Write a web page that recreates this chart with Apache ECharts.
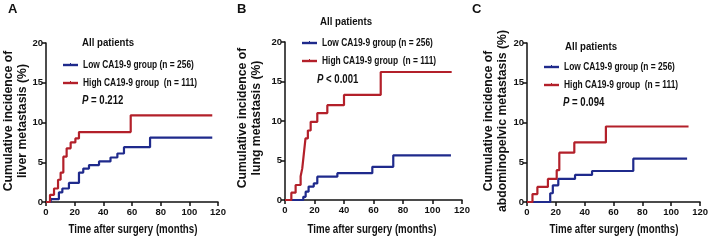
<!DOCTYPE html>
<html><head><meta charset="utf-8">
<script src="https://cdn.jsdelivr.net/npm/echarts@6/dist/echarts.min.js"></script>
<style>html,body{margin:0;padding:0;background:#fff}#c{width:711px;height:244px}</style>
</head><body><div id="c"></div>
<script>
const xTicks = [0, 20, 40, 60, 80, 100, 120];
const yTicks = [0, 5, 10, 15, 20];
const lowName = 'Low CA19-9 group (n = 256)';
const highName = 'High CA19-9 group  (n = 111)';
const panelLetters = ['A', 'B', 'C'];
const xTitle = 'Time after surgery (months)';
const yTitles = [
  'Cumulative incidence of\nliver metastasis (%)',
  'Cumulative incidence of\nlung metastasis (%)',
  'Cumulative incidence of\nabdominopelvic metastasis (%)'
];
const pTexts = ['= 0.212', '< 0.001', '= 0.094'];
// [month, cumulative incidence %]
const liverLow = [[0,0],[3.3,0.35],[9,1.2],[11.4,1.7],[16,2.4],[23,3.7],[26,4.2],[30,4.65],[37,5.1],[45,5.6],[49.8,6.1],[54.4,6.9],[72.6,8.1],[116,8.1]];
const liverHigh = [[0,0],[2.8,0.9],[5.6,1.7],[8.4,2.8],[10.2,3.7],[12.1,5.7],[14.4,6.75],[17.2,7.5],[20.5,8.0],[23,8.8],[59.1,10.9],[116,10.9]];
const lungLow = [[0,0],[12.4,0.4],[14,1.05],[16,1.7],[19.5,2.1],[21.9,2.95],[35.5,3.4],[59.2,4.2],[73.4,5.65],[112.5,5.65]];
const lungHigh = [[0,0],[4.3,0.93],[7.2,1.9],[10.6,3.0],[11.7,4.0],[12.8,5.9],[13.9,7.8],[15.5,8.8],[17.4,9.9],[21.9,11.0],[28.7,12.0],[40,13.3],[64.9,16.2],[113,16.2]];
const abdLow = [[0,0],[16.1,1.1],[17.9,2.1],[21.7,2.9],[33.3,3.4],[45.1,3.9],[73.7,5.45],[111,5.45]];
const abdHigh = [[0,0],[3.8,1.0],[7.2,1.9],[14.5,2.9],[20.6,4.0],[22.4,6.2],[32.8,7.5],[54.7,9.5],[112,9.5]];

const lowData = [liverLow, lungLow, abdLow];
const highData = [liverHigh, lungHigh, abdHigh];

const FONT = '"Liberation Sans", Arial, sans-serif';
const BLUE = '#1f2a8c';
const RED = '#b3202a';
const INK = '#111';

const grids = [
  {left: 46, top: 43, width: 172, height: 159},
  {left: 285, top: 42, width: 177, height: 158},
  {left: 527, top: 43, width: 179, height: 159}
];
const legendPos = [[63, 65], [302, 43], [544, 67]];
const allPos = [[82, 43], [320, 22], [565, 47]];
const pPos = [[82, 101], [317, 80], [563, 103]];
const letterPos = [[8, 3], [237, 3], [472, 3]];
const yTitlePos = [[15, 121], [249, 118], [495, 121]];
const xTitlePos = [[133, 230], [372, 230], [614, 230]];

const axisStyle = {lineStyle: {color: INK, width: 1.5}};
const option = {
  animation: false,
  grid: grids.map(g => Object.assign({containLabel: false}, g)),
  xAxis: grids.map((g, i) => ({
    gridIndex: i, type: 'value', min: xTicks[0], max: xTicks[xTicks.length - 1], interval: 20,
    axisLine: axisStyle, axisTick: {show: true, length: 4, lineStyle: {color: INK, width: 1.5}},
    axisLabel: {fontFamily: FONT, fontWeight: 'bold', fontSize: 9.5, color: INK, margin: 5},
    splitLine: {show: false}
  })),
  yAxis: grids.map((g, i) => ({
    gridIndex: i, type: 'value', min: yTicks[0], max: yTicks[yTicks.length - 1], interval: 5,
    axisLine: Object.assign({show: true}, axisStyle), axisTick: {show: true, length: 4, lineStyle: {color: INK, width: 1.5}},
    axisLabel: {fontFamily: FONT, fontWeight: 'bold', fontSize: 9.5, color: INK, margin: 3},
    splitLine: {show: false}
  })),
  series: [],
  graphic: []
};
function txt(x, y, text, size, sx, extra) {
  return Object.assign({type: 'text', x: x, y: y, scaleX: sx, scaleY: 1,
    style: Object.assign({text: text, fontFamily: FONT, fontWeight: 'bold', fontSize: size, fill: INK, textVerticalAlign: 'middle'}, extra || {})});
}
for (let i = 0; i < 3; i++) {
  option.series.push({name: lowName, type: 'line', xAxisIndex: i, yAxisIndex: i, step: 'end', showSymbol: false,
    data: lowData[i], lineStyle: {color: BLUE, width: 2.2}, itemStyle: {color: BLUE}});
  option.series.push({name: highName, type: 'line', xAxisIndex: i, yAxisIndex: i, step: 'end', showSymbol: false,
    data: highData[i], lineStyle: {color: RED, width: 2.2}, itemStyle: {color: RED}});
  option.graphic.push({type: 'text', left: letterPos[i][0], top: letterPos[i][1],
    style: {text: panelLetters[i], fontFamily: FONT, fontWeight: 'bold', fontSize: 13, fill: INK}});
  option.graphic.push(txt(allPos[i][0], allPos[i][1], 'All patients', 11.5, 0.84));
  const names = [lowName, highName], cols = [BLUE, RED];
  for (let k = 0; k < 2; k++) {
    const lx = legendPos[i][0], ly = legendPos[i][1] + k * 18;
    option.graphic.push({type: 'line', shape: {x1: lx, y1: ly, x2: lx + 15, y2: ly}, style: {stroke: cols[k], lineWidth: 2.4}});
    option.graphic.push({type: 'line', shape: {x1: lx + 7.5, y1: ly - 2, x2: lx + 7.5, y2: ly}, style: {stroke: cols[k], lineWidth: 1}});
    option.graphic.push(txt(lx + 20, ly, names[k], 10.5, 0.8));
  }
  option.graphic.push(txt(pPos[i][0], pPos[i][1], '{i|P} ' + pTexts[i], 12, 0.8,
    {rich: {i: {fontFamily: FONT, fontWeight: 'bold', fontStyle: 'italic', fontSize: 12, fill: INK}}}));
  option.graphic.push(txt(xTitlePos[i][0], xTitlePos[i][1], xTitle, 12, 0.81, {textAlign: 'center'}));
  option.graphic.push(Object.assign(txt(yTitlePos[i][0], yTitlePos[i][1], yTitles[i], 13, 0.94,
    {textAlign: 'center', lineHeight: 14}), {rotation: Math.PI / 2}));
}
const chart = echarts.init(document.getElementById('c'), null, {renderer: 'canvas'});
chart.setOption(option);
</script></body></html>
